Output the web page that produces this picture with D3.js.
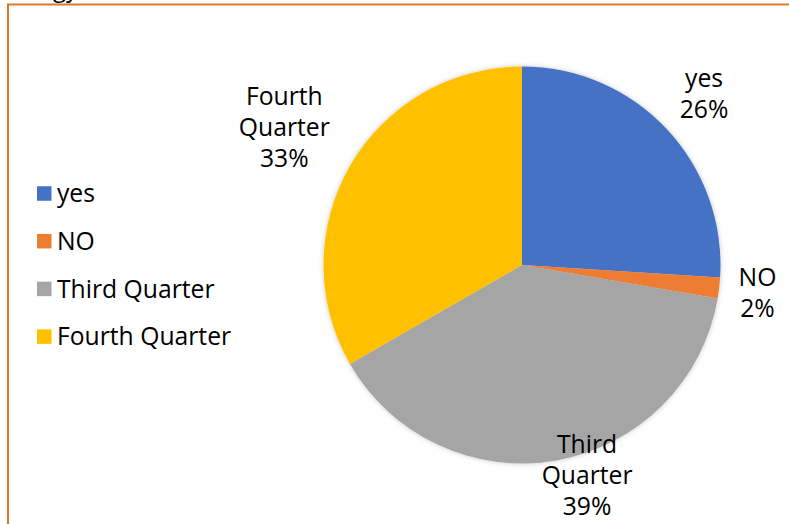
<!DOCTYPE html>
<html>
<head>
<meta charset="utf-8">
<script src="https://cdn.jsdelivr.net/npm/d3@7/dist/d3.min.js"></script>
<style>
  html, body { margin: 0; padding: 0; background: #fff; }
  svg { display: block; }
  text { font-family: "Open Sans", "Noto Sans", sans-serif; fill: #000; }
</style>
</head>
<body>
<svg id="chart" width="789" height="524"></svg>
<script>
// ---- data ----
const categories = ["yes", "NO", "Third Quarter", "Fourth Quarter"];
const values = [26.0, 1.7, 39.0, 33.3];
const colors = ["#4472C4", "#ED7D31", "#A5A5A5", "#FFC000"];

const W = 789, H = 524;
const svg = d3.select("#chart");

// filter for subtle shadow
const defs = svg.append("defs");
const f = defs.append("filter").attr("id", "sh").attr("x", "-10%").attr("y", "-10%").attr("width", "120%").attr("height", "120%");
f.append("feDropShadow").attr("dx", 0).attr("dy", 0).attr("stdDeviation", 2.5)
  .attr("flood-color", "#000").attr("flood-opacity", 0.22);

// cut-off title fragment at top (as in the reference)
svg.append("text").attr("x", 53).attr("y", -3.5).attr("font-size", 24).text("gy");

// frame (orange border top & left)
svg.append("path")
  .attr("d", `M8,${H + 2} L8,4.5 L${W + 2},4.5`)
  .attr("fill", "none").attr("stroke", "#D67A33").attr("stroke-width", 2);

// ---- pie ----
const cx = 522, cy = 265, R = 198.5;
const pie = d3.pie().sort(null).value(d => d)(values);
const arc = d3.arc().innerRadius(0).outerRadius(R);
const g = svg.append("g").attr("transform", `translate(${cx},${cy})`);
g.append("g").attr("filter", "url(#sh)")
  .selectAll("path").data(pie).join("path")
  .attr("d", arc)
  .attr("fill", (d, i) => colors[i]);

// ---- data labels (placed just outside the pie, clamped to chart area) ----
const fs = 24.7, lh = 30.8, capH = 17.5, gap = 17;
const total = d3.sum(values);
const fmt = v => Math.round(v / total * 100) + "%";
const lblLines = pie.map((d, i) => categories[i].split(" ").concat([fmt(d.value)]));

const tmp = svg.append("text").attr("font-size", fs);
function textW(s) { tmp.text(s); return tmp.node().getComputedTextLength(); }

pie.forEach((d, i) => {
  const lines = lblLines[i];
  const w = d3.max(lines, textW);
  const h = capH + (lines.length - 1) * lh;
  const th = (d.startAngle + d.endAngle) / 2;
  const sx = Math.sin(th), cyv = -Math.cos(th);
  const ext = Math.abs(sx) * w / 2 + Math.abs(cyv) * h / 2;
  const dist = R + gap + ext;
  let x = cx + dist * sx;
  let yc = cy + dist * cyv;
  // clamp block inside the chart area; slide sideways when pushed up
  const bottomLimit = H - 9;
  if (yc + h / 2 > bottomLimit) {
    const push = yc + h / 2 - bottomLimit;
    yc -= push;
    x += Math.sign(sx) * push * 0.4;
  }
  const firstBase = yc - h / 2 + capH;
  const t = svg.append("text").attr("font-size", fs).attr("text-anchor", "middle");
  lines.forEach((s, k) => {
    t.append("tspan").attr("x", x).attr("y", firstBase + k * lh).text(s);
  });
});
tmp.remove();

// ---- legend ----
const lgX = 37, lgY0 = 193.5, lgStep = 47.7, sq = 14.5;
const lg = svg.append("g");
categories.forEach((c, i) => {
  const y = lgY0 + i * lgStep;
  lg.append("rect").attr("x", lgX).attr("y", y - sq / 2).attr("width", sq).attr("height", sq).attr("fill", colors[i]);
  lg.append("text").attr("x", 57).attr("y", y + 8.7).attr("font-size", fs).text(c);
});
</script>
</body>
</html>
